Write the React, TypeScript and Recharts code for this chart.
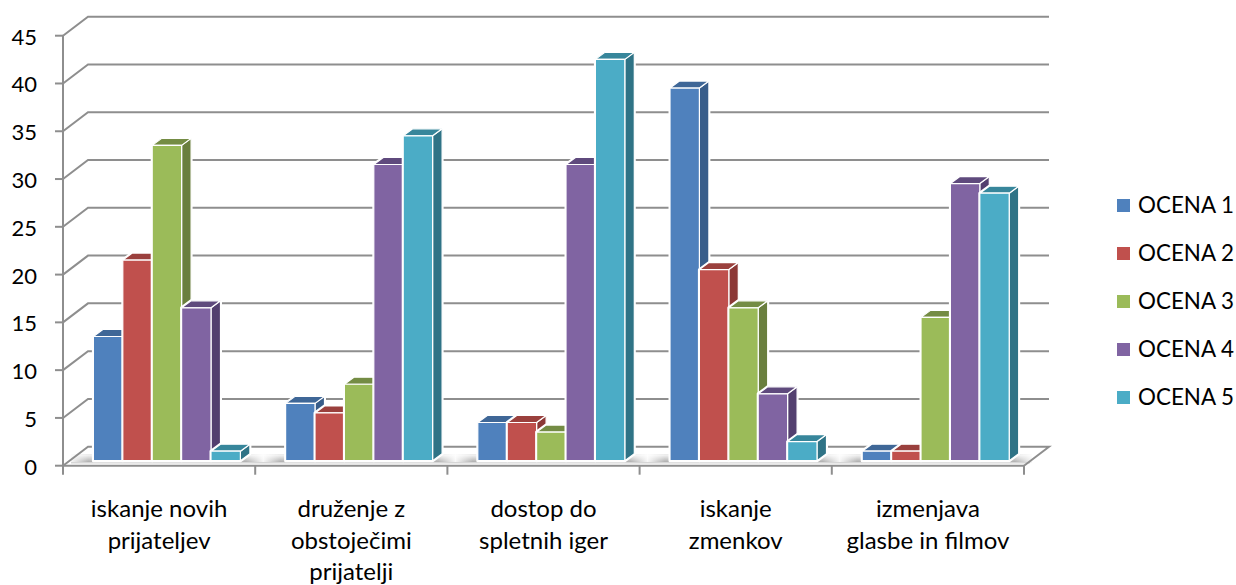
import { BarChart, Bar, XAxis, YAxis, CartesianGrid, Legend } from 'recharts';

const categoryLines = [
  ['iskanje novih', 'prijateljev'],
  ['druženje z', 'obstoječimi', 'prijatelji'],
  ['dostop do', 'spletnih iger'],
  ['iskanje', 'zmenkov'],
  ['izmenjava', 'glasbe in filmov'],
];
const ocena1 = [13, 6, 4, 39, 1];
const ocena2 = [21, 5, 4, 20, 1];
const ocena3 = [33, 8, 3, 16, 15];
const ocena4 = [16, 31, 31, 7, 29];
const ocena5 = [1, 34, 42, 2, 28];
const yTicks = [0, 5, 10, 15, 20, 25, 30, 35, 40, 45];

const seriesNames = ['OCENA 1', 'OCENA 2', 'OCENA 3', 'OCENA 4', 'OCENA 5'];
const seriesValues = [ocena1, ocena2, ocena3, ocena4, ocena5];
const frontColors = ['#4f81bd', '#c0504d', '#9bbb59', '#8064a2', '#4bacc6'];
const sideColors = ['#385d8a', '#8c3836', '#6a7f3e', '#533f6f', '#2f7386'];
const topColors = ['#3f6797', '#9a403d', '#748c44', '#5f4a7d', '#37869b'];

const data = categoryLines.map((lines, i) => {
  const row: any = { name: lines.join(' ') };
  seriesNames.forEach((s, j) => {
    row[s] = seriesValues[j][i];
  });
  return row;
});

const FONT = 'Lato, "Open Sans", sans-serif';
const GRID = '#8e8e8e';
// projection of the 3d box
const WALL_DX = 25;
const WALL_DY = -19;
const BAR_DX = 7.4;
const BAR_DY = -5;
const DEPTH_X = 9.5;
const DEPTH_Y = -7;

function GridLine(props: any) {
  const { x1, x2, y1, index } = props;
  const bx = x1 + WALL_DX;
  const by = y1 + WALL_DY;
  if (index === 0) {
    const step = (x2 - x1) / categoryLines.length;
    return (
      <g>
        <polygon points={`${x1},${y1} ${bx},${by} ${x2 + WALL_DX},${by} ${x2},${y1}`} fill="#fff" />
        {categoryLines.map((_, i) => (
          <rect key={i} x={x1 + i * step + 8} y={y1 - 11} width={step} height={8} fill="url(#floorShade)" />
        ))}
        <rect x={x1 + 8} y={y1 - 11} width={x2 - x1} height={8} fill="url(#floorFade)" />
        <line x1={x1 + 8} x2={x2 + 6} y1={y1 - 3} y2={y1 - 3} stroke="#d6d6d6" strokeWidth={1.5} />
        <polyline
          points={`${x1},${y1} ${bx},${by} ${x2 + WALL_DX},${by} ${x2},${y1}`}
          fill="none"
          stroke={GRID}
          strokeWidth={2}
        />
      </g>
    );
  }
  return <polyline points={`${x1},${y1} ${bx},${by} ${x2 + WALL_DX},${by}`} fill="none" stroke={GRID} strokeWidth={2} />;
}

function CategoryTick(props: any) {
  const { x, y, index, payload } = props;
  const half = props.width / categoryLines.length / 2;
  const lines = categoryLines[index] ?? [payload.value];
  const last = index === categoryLines.length - 1;
  return (
    <g>
      <line x1={x - half} x2={x - half} y1={y} y2={y + 9} stroke={GRID} strokeWidth={2} />
      {last && <line x1={x + half} x2={x + half} y1={y} y2={y + 9} stroke={GRID} strokeWidth={2} />}
      <text textAnchor="middle" fontFamily={FONT} fontSize={24} fill="#000">
        {lines.map((line: string, i: number) => (
          <tspan key={line} x={x} y={517 + i * 31.5}>
            {line}
          </tspan>
        ))}
      </text>
    </g>
  );
}

function ValueTick(props: any) {
  const { x, y, payload } = props;
  return (
    <text x={x} y={y + 9} textAnchor="end" fontFamily={FONT} fontSize={22} fill="#000">
      {payload.value}
    </text>
  );
}

function Bar3D(props: any) {
  const { x, y, width, height, seriesIndex } = props;
  const l = x + BAR_DX;
  const r = l + width;
  const t = y + BAR_DY;
  const b = t + height;
  const edge = { stroke: '#fff', strokeWidth: 1.2, strokeLinejoin: 'round' as const };
  const outline = `${l},${b} ${l},${t} ${l + DEPTH_X},${t + DEPTH_Y} ${r + DEPTH_X},${t + DEPTH_Y} ${r + DEPTH_X},${b + DEPTH_Y} ${r},${b}`;
  return (
    <g>
      <polygon points={outline} fill="#fff" stroke="#fff" strokeWidth={3} strokeLinejoin="round" />
      <polygon
        points={`${r},${t} ${r + DEPTH_X},${t + DEPTH_Y} ${r + DEPTH_X},${b + DEPTH_Y} ${r},${b}`}
        fill={sideColors[seriesIndex]}
        {...edge}
      />
      <polygon
        points={`${l},${t} ${l + DEPTH_X},${t + DEPTH_Y} ${r + DEPTH_X},${t + DEPTH_Y} ${r},${t}`}
        fill={topColors[seriesIndex]}
        {...edge}
      />
      <rect x={l} y={t} width={width} height={height} fill={frontColors[seriesIndex]} {...edge} />
    </g>
  );
}

function LegendList({ payload }: any) {
  return (
    <div style={{ fontFamily: FONT, fontSize: 22.4, color: '#000' }}>
      {(payload ?? []).map((item: any) => (
        <div key={item.value} style={{ display: 'flex', alignItems: 'center', height: 48 }}>
          <span style={{ width: 13, height: 13, background: item.color, marginRight: 8, flex: 'none' }} />
          <span style={{ lineHeight: '24px', whiteSpace: 'nowrap' }}>{item.value}</span>
        </div>
      ))}
    </div>
  );
}

export default function App() {
  return (
    <div style={{ position: 'absolute', left: 0, top: 0, width: 1236, height: 585, background: '#fff' }}>
      <BarChart
        width={1236}
        height={585}
        data={data}
        barGap={0}
        margin={{ top: 35.7, right: 93, bottom: 0, left: 0 }}
      >
        <defs>
          <linearGradient id="floorShade" x1="0" y1="0" x2="1" y2="0">
            <stop offset="0" stopColor="#f4f4f4" />
            <stop offset="0.09" stopColor="#a8a8a8" />
            <stop offset="0.91" stopColor="#a8a8a8" />
            <stop offset="1" stopColor="#f4f4f4" />
          </linearGradient>
          <linearGradient id="floorFade" x1="0" y1="0" x2="0" y2="1">
            <stop offset="0" stopColor="#fff" stopOpacity={0.9} />
            <stop offset="1" stopColor="#fff" stopOpacity={0} />
          </linearGradient>
        </defs>
        <CartesianGrid vertical={false} horizontal={GridLine} />
        <XAxis
          dataKey="name"
          height={119.3}
          interval={0}
          tickLine={false}
          axisLine={{ stroke: GRID, strokeWidth: 2 }}
          tick={CategoryTick}
          tickSize={0}
          tickMargin={0}
        />
        <YAxis
          width={63}
          domain={[0, 45]}
          ticks={yTicks}
          interval={0}
          tickSize={8}
          tickMargin={18}
          axisLine={{ stroke: GRID, strokeWidth: 2 }}
          tickLine={{ stroke: GRID, strokeWidth: 2 }}
          tick={ValueTick}
        />
        <Legend
          layout="vertical"
          align="right"
          verticalAlign="top"
          wrapperStyle={{ left: 1117, top: 181, width: 119 }}
          content={LegendList}
        />
        {seriesNames.map((s, i) => (
          <Bar
            key={s}
            dataKey={s}
            fill={frontColors[i]}
            barSize={29.4}
            isAnimationActive={false}
            shape={(p: any) => <Bar3D {...p} seriesIndex={i} />}
          />
        ))}
      </BarChart>
    </div>
  );
}
